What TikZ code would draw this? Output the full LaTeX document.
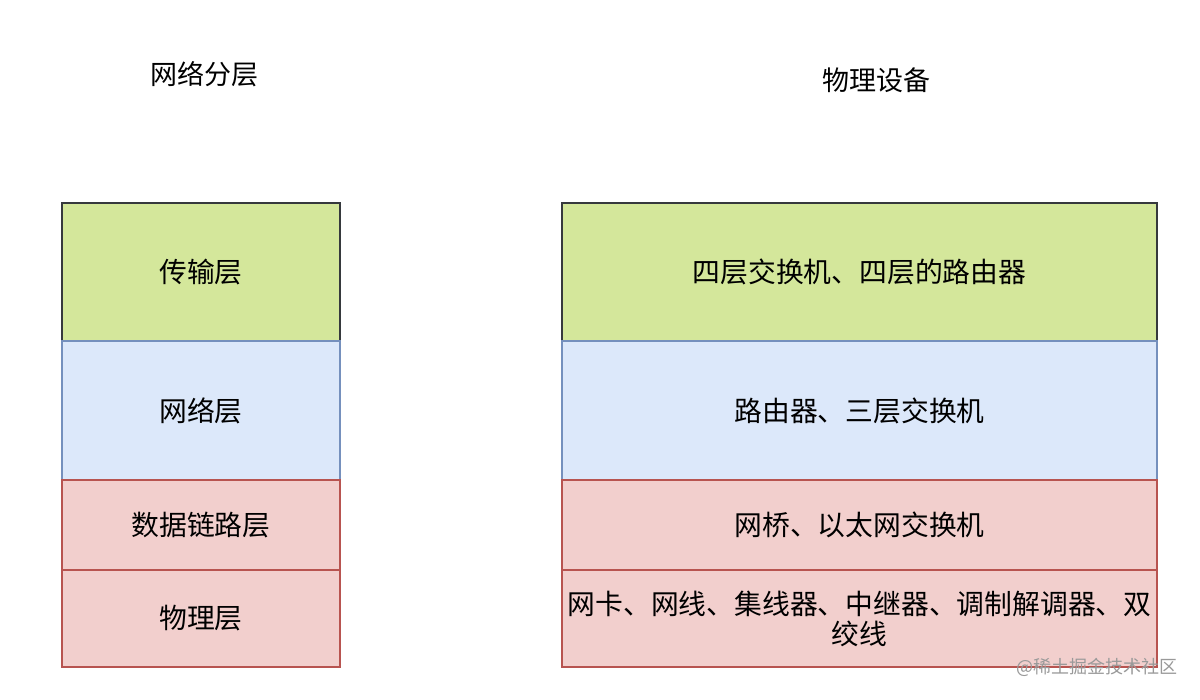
\documentclass[tikz,border=0pt]{standalone}
\usepackage{fontspec}
\setmainfont{Noto Sans CJK SC}
\definecolor{gfill}{HTML}{D4E79B}
\definecolor{gdraw}{HTML}{36393D}
\definecolor{bfill}{HTML}{DCE8FA}
\definecolor{bdraw}{HTML}{7590BD}
\definecolor{rfill}{HTML}{F2CFCD}
\definecolor{rdraw}{HTML}{B85450}
\begin{document}
\begin{tikzpicture}[x=1pt,y=-1pt,
  lay/.style={rectangle,inner sep=0pt,line width=1.6pt,font=\fontsize{27.8}{30}\selectfont,align=center},
  green/.style={lay,fill=gfill,draw=gdraw},
  blue/.style={lay,fill=bfill,draw=bdraw},
  red/.style={lay,fill=rfill,draw=rdraw},
  ttl/.style={font=\fontsize{27}{31}\selectfont,inner sep=0pt}]
\useasboundingbox[fill=white] (0,0) rectangle (1200,700);
\node[ttl] (t1) at (204,74) {网络分层};
\node[ttl] (t2) at (876,80) {物理设备};
% left column
\node[green,minimum width=278pt,minimum height=138pt] (l1) at (201,272) {传输层};
\node[blue,minimum width=278pt,minimum height=139pt] (l2) at (201,410.5) {网络层};
\node[red,minimum width=278pt,minimum height=90pt] (l3) at (201,525) {数据链路层};
\node[red,minimum width=278pt,minimum height=97pt] (l4) at (201,618.5) {物理层};
% right column
\node[green,minimum width=595pt,minimum height=138pt] (r1) at (859.5,272) {四层交换机、四层的路由器};
\node[blue,minimum width=595pt,minimum height=139pt] (r2) at (859.5,410.5) {路由器、三层交换机};
\node[red,minimum width=595pt,minimum height=90pt] (r3) at (859.5,525) {网桥、以太网交换机};
\node[red,minimum width=595pt,minimum height=97pt,text width=592pt] (r4) at (859.5,618.5) {网卡、网线、集线器、中继器、调制解调器、双\\绞线};
\node[font=\fontsize{18}{20}\selectfont,text=black!40,inner sep=0pt] (wm) at (1097,667) {@稀土掘金技术社区};
\end{tikzpicture}
\end{document}
